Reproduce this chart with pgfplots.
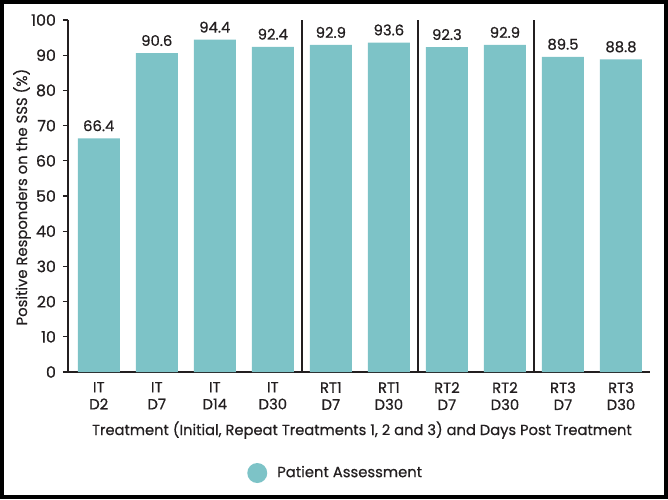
\documentclass[border=0pt]{standalone}
\usepackage{pgfplots}
\pgfplotsset{compat=1.18}
\usepackage{fontspec}
\setmainfont{Poppins}[RawFeature={embolden=0.6}]
\definecolor{barcol}{RGB}{125,195,199}
\definecolor{txt}{RGB}{35,31,32}
\begin{document}
\begin{tikzpicture}[x=1pt,y=1pt]
\useasboundingbox (-34,-63.5) rectangle (300,186);
\draw[line width=1.8pt,black] (-33.1,-62.6) rectangle (299.1,185.1);
\begin{axis}[
  at={(0,0)}, anchor=south west,
  scale only axis, width=291pt, height=176pt,
  xmin=-0.53, xmax=9.5, ymin=0, ymax=100,
  axis x line=bottom, axis y line=left,
  axis line style={-, line width=0.8pt, txt},
  ytick={0,10,...,100},
  xtick={0,...,9},
  xticklabels={{IT\\D2},{IT\\D7},{IT\\D14},{IT\\D30},{RT1\\D7},{RT1\\D30},{RT2\\D7},{RT2\\D30},{RT3\\D7},{RT3\\D30}},
  xticklabel style={align=center, font=\fontsize{7.4}{8.5}\selectfont, text=txt, yshift=1pt},
  yticklabel style={font=\fontsize{7.9}{9}\selectfont, text=txt},
  /pgf/number format/assume math mode=true,
  major x tick style={draw=none},
  major y tick style={line width=0.6pt, txt},
  tick align=outside, major tick length=2.5pt,
  ylabel={Positive Responders on the SSS (\%)},
  ylabel style={at={(axis description cs:-0.079,0.497)}, anchor=center, font=\fontsize{7.4}{8.5}\selectfont, text=txt},
  xlabel={Treatment (Initial, Repeat Treatments 1, 2 and 3) and Days Post Treatment},
  xlabel style={at={(axis description cs:0.505,-0.165)}, anchor=center, font=\fontsize{7.35}{8.5}\selectfont, text=txt},
  ybar, bar width=21pt,
  nodes near coords,
  nodes near coords style={font=\fontsize{7.4}{8.5}\selectfont, text=txt},
  point meta=explicit symbolic,
  legend style={draw=none, at={(0.297,-0.287)}, anchor=west, font=\fontsize{7.4}{8.5}\selectfont, text=txt, fill=none},
  legend image code/.code={\fill[barcol] (0.25em,0) circle (5pt);},
  clip=false,
]
\addplot[fill=barcol, draw=none] table[meta=lab] {
x y lab
0 66.4 66.4
1 90.6 90.6
2 94.4 94.4
3 92.4 92.4
4 92.9 92.9
5 93.6 93.6
6 92.3 92.3
7 92.9 92.9
8 89.5 89.5
9 88.8 88.8
};
\addlegendentry{\hspace{3pt}Patient Assessment}
\draw[txt, line width=0.8pt] (axis cs:3.5,0) -- (axis cs:3.5,100);
\draw[txt, line width=0.8pt] (axis cs:5.5,0) -- (axis cs:5.5,100);
\draw[txt, line width=0.8pt] (axis cs:7.5,0) -- (axis cs:7.5,100);
\end{axis}
\end{tikzpicture}
\end{document}
